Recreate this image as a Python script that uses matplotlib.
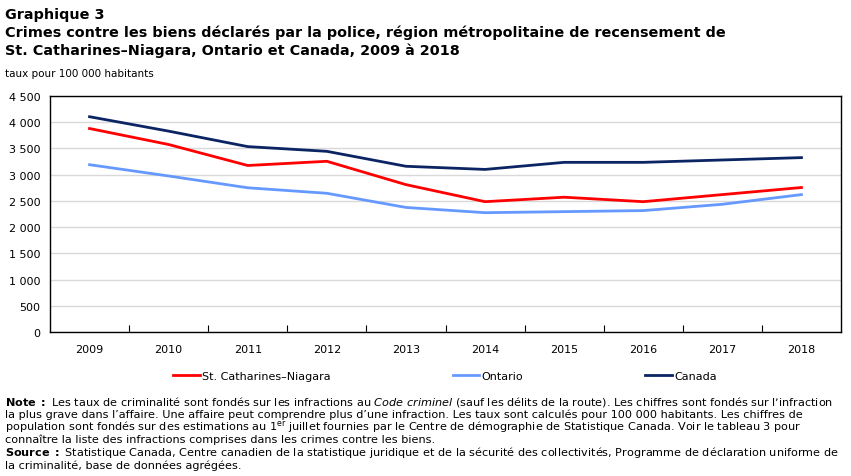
import numpy as np
import matplotlib.pyplot as plt
from matplotlib.ticker import FuncFormatter, FixedLocator

years = ["2009", "2010", "2011", "2012", "2013", "2014", "2015", "2016", "2017", "2018"]
st_catharines = [3880, 3575, 3175, 3255, 2810, 2485, 2570, 2485, 2620, 2755]
ontario = [3190, 2975, 2750, 2645, 2375, 2275, 2295, 2315, 2435, 2620]
canada = [4105, 3830, 3535, 3445, 3160, 3100, 3235, 3235, 3280, 3325]

W, H = 851, 477
fig = plt.figure(figsize=(W / 100, H / 100), dpi=100)
ax = fig.add_axes([50 / W, 1 - 333 / H, 791 / W, 236 / H])

x = np.arange(len(years))
ax.plot(x, st_catharines, color="#FF0000", lw=2, label="St. Catharines\u2013Niagara")
ax.plot(x, ontario, color="#6699FF", lw=2, label="Ontario")
ax.plot(x, canada, color="#0B2463", lw=2, label="Canada")

ax.set_xlim(-0.5, len(years) - 0.5)
ax.set_ylim(0, 4500)
ax.set_yticks(np.arange(0, 4501, 500))
ax.yaxis.set_major_formatter(FuncFormatter(lambda v, p: format(int(v), ",").replace(",", " ")))
ax.set_xticks(x)
ax.set_xticklabels(years)
ax.xaxis.set_minor_locator(FixedLocator(np.arange(0.5, len(years) - 1, 1)))
ax.tick_params(axis="x", which="major", length=0, pad=9, labelsize=8)
ax.tick_params(axis="x", which="minor", direction="in", length=5, width=0.8)
ax.tick_params(axis="y", length=0, pad=7, labelsize=8)
ax.grid(axis="y", color="#D9D9D9", lw=1)
ax.set_axisbelow(True)
for s in ax.spines.values():
    s.set_linewidth(1)
    s.set_color("black")

# titles
fig.text(5 / W, 1 - 15 / H, "Graphique 3", fontsize=10.4, fontweight="bold", va="center")
fig.text(5 / W, 1 - 33 / H, "Crimes contre les biens déclarés par la police, région métropolitaine de recensement de",
         fontsize=10.4, fontweight="bold", va="center")
fig.text(5 / W, 1 - 51 / H, "St. Catharines\u2013Niagara, Ontario et Canada, 2009 à 2018",
         fontsize=10.4, fontweight="bold", va="center")
fig.text(5 / W, 1 - 74 / H, "taux pour 100 000 habitants", fontsize=7.5, va="center")

fig.legend(loc="center left", bbox_to_anchor=(173 / W, 1 - 377 / H), ncol=3, frameon=False,
           fontsize=8, handlelength=2.4, handletextpad=0.2, columnspacing=11,
           borderpad=0, borderaxespad=0)

notes = [
    r"$\bf{Note\ :}$ Les taux de criminalité sont fondés sur les infractions au $\it{Code\ criminel}$ (sauf les délits de la route). Les chiffres sont fondés sur l’infraction",
    "la plus grave dans l\u2019affaire. Une affaire peut comprendre plus d\u2019une infraction. Les taux sont calculés pour 100 000 habitants. Les chiffres de",
    r"population sont fondés sur des estimations au 1$^{\rm er}$ juillet fournies par le Centre de démographie de Statistique Canada. Voir le tableau 3 pour",
    "connaître la liste des infractions comprises dans les crimes contre les biens.",
    r"$\bf{Source\ :}$ Statistique Canada, Centre canadien de la statistique juridique et de la sécurité des collectivités, Programme de déclaration uniforme de",
    "la criminalité, base de données agrégées.",
]
for i, line in enumerate(notes):
    fig.text(5 / W, 1 - (402 + i * 12.7) / H, line, fontsize=8.1, va="center")

fig.savefig("out.png", dpi=100)
